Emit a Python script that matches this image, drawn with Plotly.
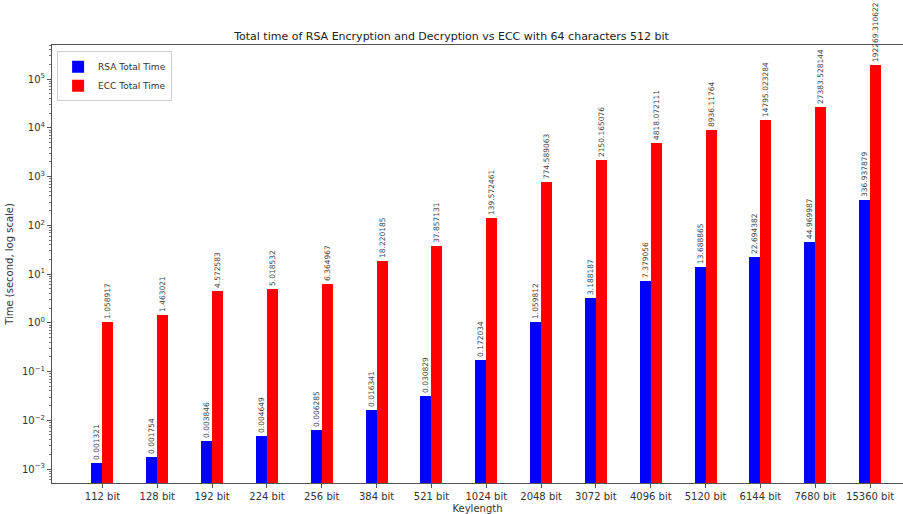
import plotly.graph_objects as go

categories = ["112 bit", "128 bit", "192 bit", "224 bit", "256 bit", "384 bit", "521 bit",
              "1024 bit", "2048 bit", "3072 bit", "4096 bit", "5120 bit", "6144 bit",
              "7680 bit", "15360 bit"]
rsa_total = [0.001321, 0.001754, 0.003846, 0.004649, 0.006285, 0.016341, 0.030829,
             0.172034, 1.059812, 3.188187, 7.379056, 13.688865, 22.694382, 44.969987,
             336.937879]
ecc_total = [1.058917, 1.463021, 4.572583, 5.018532, 6.364967, 18.220185, 37.857131,
             139.572461, 774.589063, 2150.165076, 4818.072111, 8936.11764, 14795.023284,
             27383.528144, 192269.310622]
rsa_labels = ["0.001321", "0.001754", "0.003846", "0.004649", "0.006285", "0.016341", "0.030829",
              "0.172034", "1.059812", "3.188187", "7.379056", "13.688865", "22.694382", "44.969987",
              "336.937879"]
ecc_labels = ["1.058917", "1.463021", "4.572583", "5.018532", "6.364967", "18.220185", "37.857131",
              "139.572461", "774.589063", "2150.165076", "4818.072111", "8936.11764", "14795.023284",
              "27383.528144", "192269.310622"]
y_tick_vals = [1e-3, 1e-2, 1e-1, 1e0, 1e1, 1e2, 1e3, 1e4, 1e5]
y_tick_text = ["10<sup>−3</sup>", "10<sup>−2</sup>", "10<sup>−1</sup>", "10<sup>0</sup>",
               "10<sup>1</sup>", "10<sup>2</sup>", "10<sup>3</sup>", "10<sup>4</sup>",
               "10<sup>5</sup>"]
minor_vals = [m * 10.0 ** e for e in range(-4, 6) for m in range(2, 10)]

idx = list(range(len(categories)))
font = "DejaVu Sans"

fig = go.Figure()
fig.add_trace(go.Bar(x=idx, y=rsa_total, width=0.2, offset=-0.2, name="RSA Total Time",
                     marker=dict(color="#0000ff", line=dict(width=0)),
                     text=rsa_labels, textposition="outside", textangle=-90,
                     constraintext="none", cliponaxis=False,
                     textfont=dict(size=7.5, color="#444444", family=font)))
fig.add_trace(go.Bar(x=idx, y=ecc_total, width=0.2, offset=0.0, name="ECC Total Time",
                     marker=dict(color="#ff0000", line=dict(width=0)),
                     text=ecc_labels, textposition="outside", textangle=-90,
                     constraintext="none", cliponaxis=False,
                     textfont=dict(size=7.5, color="#444444", family=font)))

fig.update_layout(
    width=903, height=514,
    margin=dict(l=52, r=0, t=45, b=31),
    paper_bgcolor="white", plot_bgcolor="white",
    font=dict(family=font, color="#333333", size=10),
    title=dict(text="Total time of RSA Encryption and Decryption vs ECC with 64 characters 512 bit",
               x=0.5, xanchor="center", y=0.93, yanchor="middle",
               font=dict(size=11, color="#222222")),
    showlegend=True,
    legend=dict(x=0.006, y=0.986, xanchor="left", yanchor="top",
                bgcolor="rgba(255,255,255,0.8)", bordercolor="#cccccc", borderwidth=1,
                font=dict(size=9, color="#333333"), itemwidth=30, tracegroupgap=0),
    bargap=0,
)
fig.update_xaxes(
    range=[-0.92, 14.6], tickmode="array", tickvals=idx, ticktext=categories,
    showline=True, linecolor="#555555", linewidth=1, mirror=True,
    ticks="outside", ticklen=4, tickcolor="#555555", showgrid=False, zeroline=False,
    tickfont=dict(size=10),
    title=dict(text="Keylength", font=dict(size=10), standoff=4),
)
fig.update_yaxes(
    type="log", range=[-3.287, 5.70], tickmode="array", tickvals=y_tick_vals, ticktext=y_tick_text,
    showline=True, linecolor="#555555", linewidth=1, mirror=False,
    ticks="outside", ticklen=4, tickcolor="#555555", showgrid=False, zeroline=False,
    minor=dict(ticks="outside", ticklen=2, tickcolor="#777777", tickmode="array",
               tickvals=minor_vals, showgrid=False),
    tickfont=dict(size=10),
    title=dict(text="Time (second, log scale)", font=dict(size=10), standoff=6),
)

fig.write_html("out.html")
